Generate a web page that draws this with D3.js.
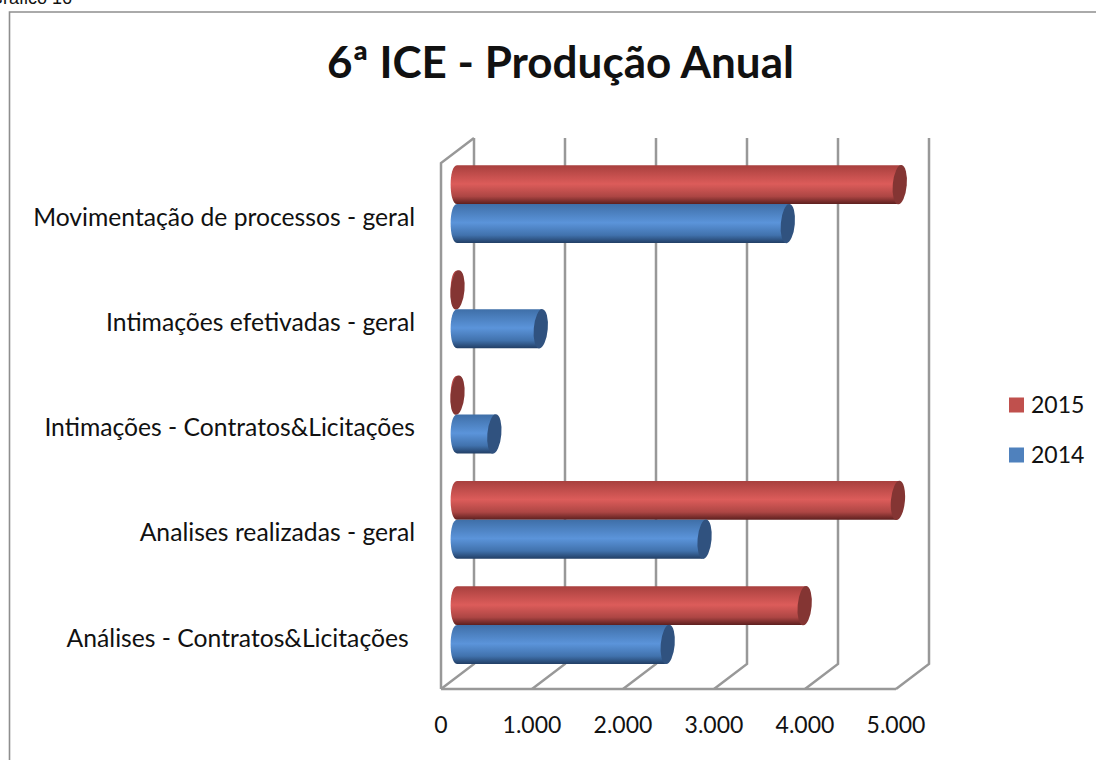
<!DOCTYPE html>
<html><head><meta charset="utf-8"><style>html,body{margin:0;padding:0;background:#fff}svg{display:block}</style>
<script src="https://cdn.jsdelivr.net/npm/d3@7"></script></head><body><svg id="c" width="1096" height="760"></svg>
<script>
const chartTitle = "6ª ICE - Produção Anual";
const captionText = "Gráfico 16";
const categories = ["Movimentação de processos - geral","Intimações efetivadas - geral","Intimações - Contratos&Licitações","Analises realizadas - geral","Análises - Contratos&Licitações "];
const series = ["2015","2014"];
const values2015 = [4860,0,0,4840,3815];
const values2014 = [3630,915,405,2715,2310];
const xTicks = [0,1000,2000,3000,4000,5000];
const tickLabels = ["0","1.000","2.000","3.000","4.000","5.000"];
const colors = {
  "2015":{top:"#a8403e",mid:"#dc5c5a",low:"#ad4644",bot:"#5c1f1e",cap:"#843533",key:"#c0504d"},
  "2014":{top:"#3f6fa8",mid:"#5b94da",low:"#4172ad",bot:"#223f66",cap:"#30527f",key:"#4f81bd"}
};
const font = "Lato, 'Open Sans', sans-serif";
const svg = d3.select("#c");
const grey = "#989898";
const depthX = 33, depthY = -25;
const x = d3.scaleLinear().domain([0,5000]).range([441,896]);
const y = d3.scaleBand().domain(categories).range([151.5,677.7]);
const barH = 38.8;
const barOffset = 16;
const defs = svg.append("defs");
series.forEach(s=>{
  const g = defs.append("linearGradient").attr("id","g"+s).attr("x1",0).attr("y1",0).attr("x2",0).attr("y2",1);
  [[0,colors[s].top],[.48,colors[s].mid],[.8,colors[s].low],[1,colors[s].bot]].forEach(d=>g.append("stop").attr("offset",d[0]).attr("stop-color",d[1]));
});
svg.append("text").attr("x",-11).attr("y",3.5).attr("font-family","'Liberation Sans',Arial,sans-serif").attr("font-size",18).attr("fill","#111").text(captionText);
svg.append("path").attr("d","M9.5,760V12H1096").attr("fill","none").attr("stroke","#8e8e8e").attr("stroke-width",1.6);
const floorY = 689, topFront = 163;
const gl = svg.append("g").attr("fill","none").attr("stroke",grey).attr("stroke-width",2.5);
xTicks.forEach(t=>{
  gl.append("path").attr("d",`M${x(t)},${floorY}L${x(t)+depthX},${floorY+depthY}V${topFront+depthY}`);
});
gl.append("path").attr("d",`M${x(0)},${floorY}V${topFront}L${x(0)+depthX},${topFront+depthY}`);
gl.append("path").attr("d",`M${x(0)},${floorY}H${x(5000)}`);
svg.append("g").selectAll("text").data(xTicks).join("text")
  .attr("x",d=>x(d)).attr("y",733).attr("text-anchor","middle").attr("font-family",font).attr("font-size",23).attr("fill","#111")
  .text((d,i)=>tickLabels[i]);
svg.append("g").selectAll("text").data(categories).join("text")
  .attr("x",415).attr("y",d=>y(d)+y.bandwidth()/2+21.5).attr("text-anchor","end").style("white-space","pre")
  .attr("font-family",font).attr("font-size",24.7).attr("fill","#111").text(d=>d);
const rx = 7;
function bar(s,vals,off){
  const g = svg.append("g");
  categories.forEach((c,i)=>{
    const x0 = x(0)+barOffset, x1 = x(vals[i])+barOffset;
    const t = y(c)+y.bandwidth()/2+off, b = t+barH, m=(t+b)/2;
    const p = d3.path();
    p.moveTo(x0,t);
    p.lineTo(x1+1.5,t);
    p.lineTo(x1-1.5,b);
    p.lineTo(x0,b);
    p.bezierCurveTo(x0-8.5,b,x0-8.5,t,x0,t);
    p.closePath();
    g.append("path").attr("d",p.toString()).attr("fill",`url(#g${s})`);
    g.append("ellipse").attr("cx",x1+0.5).attr("cy",m).attr("rx",rx).attr("ry",barH/2+0.3)
      .attr("transform",`rotate(5 ${x1+0.5} ${m})`).attr("fill",colors[s].cap);
  });
}
bar("2015",values2015,-barH);
bar("2014",values2014,0);
const ly = d3.scalePoint().domain(series).range([405,455]);
const leg = svg.append("g");
series.forEach(s=>{
  leg.append("rect").attr("x",1009).attr("y",ly(s)-7.5).attr("width",15).attr("height",15).attr("fill",colors[s].key);
  leg.append("text").attr("x",1031).attr("y",ly(s)+8).attr("font-family",font).attr("font-size",23).attr("fill","#111").text(s);
});
svg.append("text").attr("x",560.5).attr("y",78).attr("text-anchor","middle").attr("font-family",font).attr("font-weight",700).attr("font-size",44).attr("fill","#111").text(chartTitle);
</script></body></html>
